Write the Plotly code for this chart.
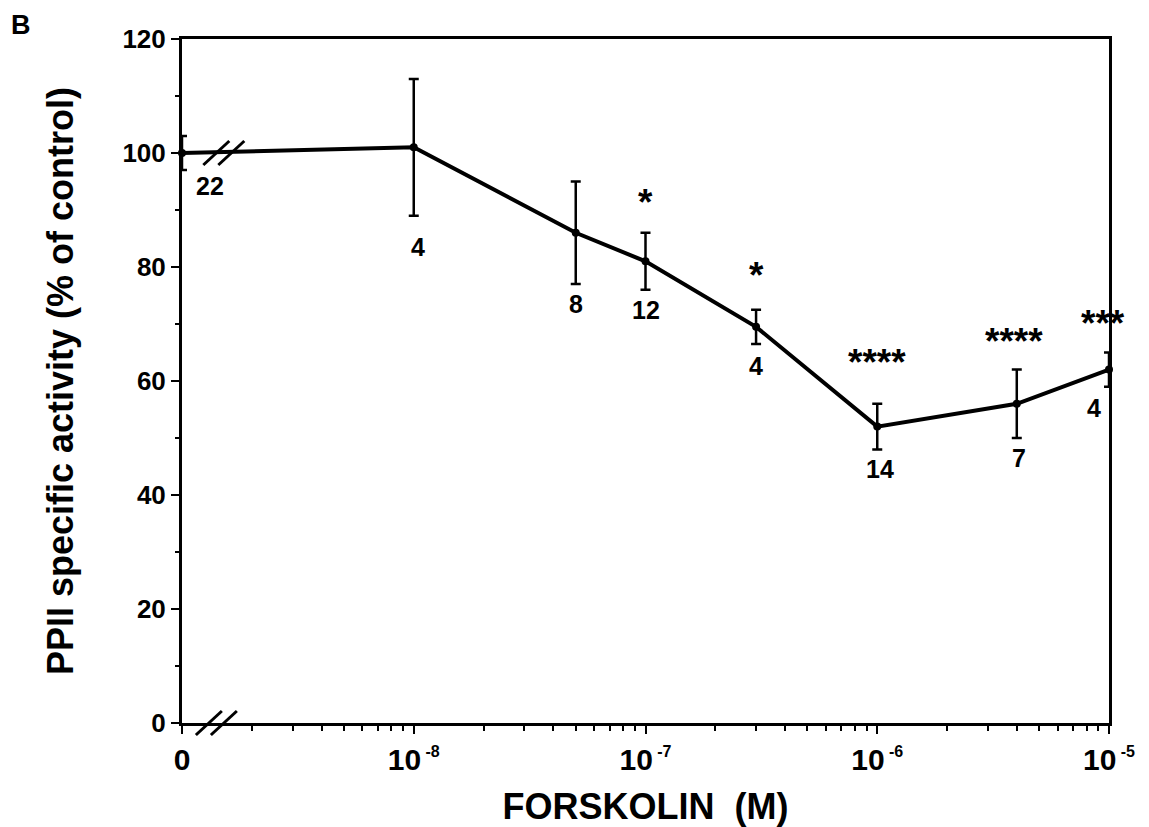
import numpy as np
import plotly.graph_objects as go

# ---------------- data ----------------
concentration_M = [0, 1e-8, 5e-8, 1e-7, 3e-7, 1e-6, 4e-6, 1e-5]
activity_pct = [100, 101, 86, 81, 69.5, 52, 56, 62]
sem_pct = [3, 12, 9, 5, 3, 4, 6, 3]
n_values = ["22", "4", "8", "12", "4", "14", "7", "4"]
significance = ["", "", "", "*", "*", "****", "****", "***"]

x_tick_vals = [0, 1e-8, 1e-7, 1e-6, 1e-5]
x_tick_text = ["0"] + ["10<sup><span style='font-size:16px'> %d</span></sup>" % e
                       for e in (-8, -7, -6, -5)]
y_tick_vals = [0, 20, 40, 60, 80, 100, 120]

# the control (0 M) is drawn one decade left of 10^-8, behind an axis break
BREAK_POS = 1e-9
x_plot = [BREAK_POS if c == 0 else c for c in concentration_M]
x_tick_plot = [BREAK_POS if c == 0 else c for c in x_tick_vals]
x_minor = [k * 10.0 ** d for d in range(-9, -5) for k in range(2, 10)]

# label offsets (pixels)
n_dx = [28, 4, 0, 0, 0, 3, 2, -15]
n_dy = [-33, -31, -20, -20, -22, -20, -20, -38]
n_from_mean = [True, False, False, False, False, False, False, True]
star_dy = [0, 0, 0, 30, 34, 41, 28, 29]
star_dx = [0, 0, 0, 0, 0, 0, -3, -6]

FONT = "Liberation Sans, Arial, Helvetica, sans-serif"

fig = go.Figure()
fig.add_trace(go.Scatter(
    x=x_plot, y=activity_pct,
    mode="lines+markers",
    line=dict(color="black", width=4),
    marker=dict(color="black", size=8),
    error_y=dict(type="data", array=sem_pct, visible=True,
                 color="black", thickness=2.5, width=5),
    cliponaxis=False,
    showlegend=False,
))

annotations = []
for i, (c, m, s) in enumerate(zip(x_plot, activity_pct, sem_pct)):
    base = m if n_from_mean[i] else m - s
    annotations.append(dict(
        x=np.log10(c), y=base, xref="x", yref="y", text=n_values[i],
        showarrow=False, xshift=n_dx[i], yshift=n_dy[i],
        xanchor="center", yanchor="middle",
        font=dict(family=FONT, size=25, color="black", weight="bold"),
    ))
    if significance[i]:
        annotations.append(dict(
            x=np.log10(c), y=m + s, xref="x", yref="y", text=significance[i],
            showarrow=False, xshift=star_dx[i], yshift=star_dy[i],
            xanchor="center", yanchor="middle",
            font=dict(family=FONT, size=37, color="black", weight="bold"),
        ))

annotations.append(dict(
    x=-0.187, y=1.021, xref="paper", yref="paper", text="B", showarrow=False,
    xanchor="left", yanchor="middle",
    font=dict(family=FONT, size=27, color="black", weight="bold"),
))

# axis-break marks
shapes = []
for xa, yref, ya in [(0.037, "y", activity_pct[0]), (0.029, "paper", 0)]:
    for off in (0, 15):
        shapes.append(dict(
            type="line", xref="paper", yref=yref,
            xsizemode="pixel", ysizemode="pixel",
            xanchor=xa, yanchor=ya,
            x0=off - 13, x1=off + 13, y0=-12, y1=12,
            line=dict(color="black", width=3),
        ))

fig.update_layout(
    width=1141, height=819,
    margin=dict(l=174, r=40, t=31, b=104),
    paper_bgcolor="white", plot_bgcolor="white",
    annotations=annotations, shapes=shapes,
    font=dict(family=FONT, color="black"),
    xaxis=dict(
        type="log", range=[-9, -5], automargin=False,
        tickmode="array", tickvals=x_tick_plot, ticktext=x_tick_text,
        ticks="outside", ticklen=8, tickwidth=2, tickcolor="black",
        minor=dict(tickmode="array", tickvals=x_minor, ticks="outside",
                   ticklen=5, tickwidth=2, tickcolor="black"),
        showline=True, linecolor="black", linewidth=3, mirror=True,
        showgrid=False, zeroline=False,
        tickfont=dict(family=FONT, size=30, color="black", weight="bold"),
        title=dict(text="FORSKOLIN  (M)", standoff=19,
                   font=dict(family=FONT, size=36, color="black", weight="bold")),
    ),
    yaxis=dict(
        range=[0, 120], automargin=False,
        tickmode="array", tickvals=y_tick_vals,
        ticks="outside", ticklen=8, tickwidth=2, tickcolor="black",
        minor=dict(dtick=10, tick0=0, ticks="outside", ticklen=4,
                   tickwidth=2, tickcolor="black"),
        showline=True, linecolor="black", linewidth=3, mirror=True,
        showgrid=False, zeroline=False,
        tickfont=dict(family=FONT, size=26, color="black", weight="bold"),
        title=dict(text="PPII specific activity (% of control)", standoff=38,
                   font=dict(family=FONT, size=36, color="black", weight="bold")),
    ),
)

fig.write_html("out.html")
